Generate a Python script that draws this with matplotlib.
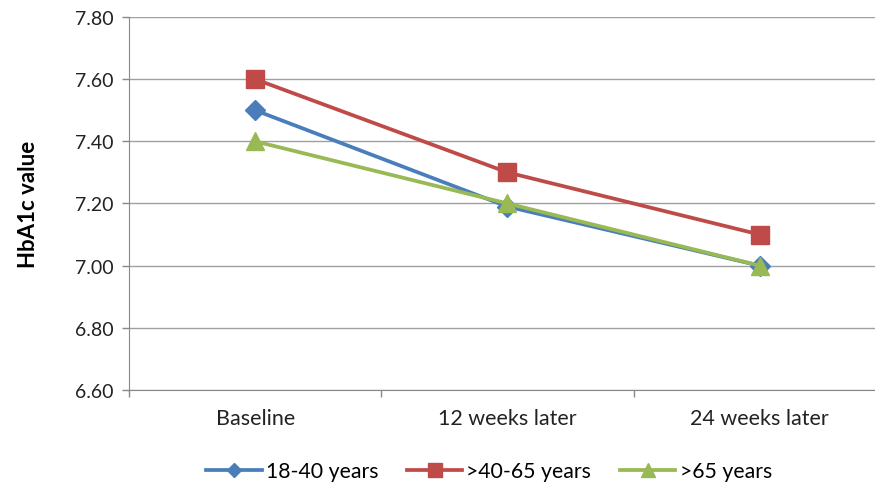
import matplotlib
matplotlib.use("Agg")
import matplotlib.pyplot as plt
from matplotlib.ticker import FixedLocator, NullFormatter

categories = ["Baseline", "12 weeks later", "24 weeks later"]
series_names = ["18-40 years", ">40-65 years", ">65 years"]
age_18_40 = [7.50, 7.19, 7.00]
age_40_65 = [7.60, 7.30, 7.10]
age_65_plus = [7.40, 7.20, 7.00]
y_ticks = [6.60, 6.80, 7.00, 7.20, 7.40, 7.60, 7.80]

colors = ["#4a7ebb", "#be4b48", "#98b954"]
markers = ["D", "s", "^"]
msizes = [10, 12.5, 12.5]

plt.rcParams["font.family"] = ["Lato", "DejaVu Sans"]

fig = plt.figure(figsize=(8.75, 4.85), dpi=100)
# axes spans x 129..886 px, y 18..391 px
ax = fig.add_axes([129 / 875, 1 - 391 / 485, 757 / 875, 373 / 485])

x = list(range(len(categories)))
for vals, name, c, m, ms in zip([age_18_40, age_40_65, age_65_plus],
                                series_names, colors, markers, msizes):
    ax.plot(x, vals, color=c, lw=2.7, marker=m, markersize=ms,
            markeredgecolor=c, label=name, zorder=3, clip_on=False)

ax.set_xlim(-0.5, 2.5)
ax.set_ylim(6.60, 7.80)
ax.set_yticks(y_ticks)
ax.set_yticklabels([f"{v:.2f}" for v in y_ticks], fontsize=14, color="#222222")
ax.yaxis.grid(True, color="#a0a0a0", lw=1.0)
ax.set_axisbelow(True)

ax.set_xticks(x)
ax.set_xticklabels(categories, fontsize=15.5, color="#222222")
ax.tick_params(axis="x", which="major", length=0, pad=13)
ax.xaxis.set_minor_locator(FixedLocator([-0.5, 0.5, 1.5, 2.5]))
ax.xaxis.set_minor_formatter(NullFormatter())
ax.tick_params(axis="x", which="minor", length=5, color="#888888", width=1)
ax.tick_params(axis="y", length=5, color="#888888", width=1, pad=6)

for s in ["top", "right"]:
    ax.spines[s].set_visible(False)
ax.spines["left"].set_color("#888888")
ax.spines["bottom"].set_color("#888888")

ax.set_ylabel("HbA1c value", fontsize=16, fontweight="bold", labelpad=26)

leg = fig.legend(loc="center", bbox_to_anchor=(489 / 875, 1 - 472 / 485),
                 ncol=3, frameon=False, fontsize=15.3, handlelength=2.6,
                 columnspacing=1.35, handletextpad=0.2, markerscale=0.75)

fig.savefig("out.png", dpi=100)
